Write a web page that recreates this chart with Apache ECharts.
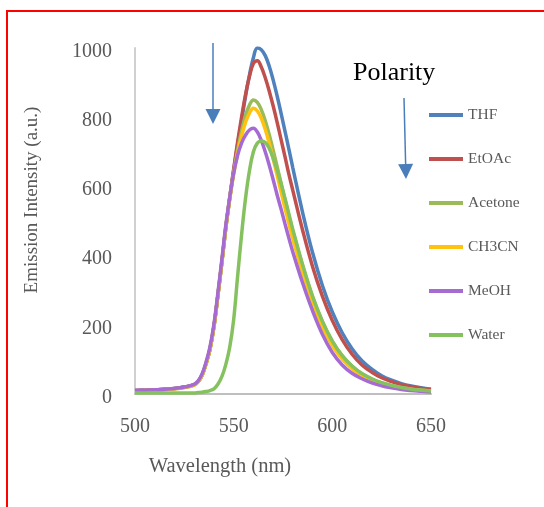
<!DOCTYPE html>
<html>
<head>
<meta charset="utf-8">
<script src="https://cdn.jsdelivr.net/npm/echarts@6/dist/echarts.min.js"></script>
<style>
  html, body { margin: 0; padding: 0; background: #fff; }
  #myChart { width: 544px; height: 507px; }
</style>
</head>
<body>
<div id="myChart"></div>
<script>
// wavelengths (nm), shared by all series
const wavelengths = [
  500, 505, 510, 515, 520, 525,
  530, 532, 534, 536, 538, 540, 542, 544, 546, 548, 550, 552, 554, 556, 558,
  560, 562, 564, 566, 568, 570, 572, 574, 576, 578, 580,
  585, 590, 595, 600, 605, 610, 615, 620, 625, 630, 635, 640, 645, 650
]

const solvents = ['THF', 'EtOAc', 'Acetone', 'CH3CN', 'MeOH', 'Water']
const colors = ['#4F81BD', '#C0504D', '#9BBB59', '#FFC20E', '#A66BD3', '#86C160']

const thf = [
  10, 11, 12, 14, 16, 20,
  27, 36, 55, 88, 130, 195, 285, 380, 480, 565, 645, 720, 790, 860, 922,
  972, 1000, 995, 978, 948, 908, 862, 812, 760, 707, 653,
  523, 408, 313, 237, 177, 131, 96, 72, 53, 40, 30, 23, 18, 14
]
const etoac = [
  10, 11, 12, 14, 16, 20,
  27, 36, 55, 88, 130, 195, 285, 380, 480, 568, 650, 728, 800, 865, 918,
  955, 963, 945, 914, 876, 833, 786, 736, 686, 635, 588,
  472, 368, 282, 212, 157, 115, 84, 63, 47, 36, 27, 21, 16, 13
]
const acetone = [
  9, 10, 11, 13, 15, 19,
  26, 35, 54, 87, 130, 195, 285, 380, 480, 565, 640, 705, 760, 805, 835,
  850, 843, 822, 790, 750, 705, 658, 610, 562, 515, 470,
  370, 280, 208, 152, 110, 80, 58, 43, 32, 24, 18, 14, 11, 9
]
const ch3cn = [
  9, 10, 11, 13, 15, 19,
  26, 35, 54, 87, 130, 195, 285, 380, 480, 563, 635, 695, 745, 785, 812,
  826, 818, 797, 765, 725, 680, 633, 585, 538, 492, 448,
  350, 262, 193, 140, 101, 73, 53, 39, 29, 22, 17, 13, 10, 8
]
const meoh = [
  10, 11, 12, 14, 16, 20,
  28, 38, 58, 92, 136, 202, 292, 388, 487, 568, 638, 690, 725, 748, 763,
  768, 757, 733, 700, 662, 620, 576, 535, 492, 450, 410,
  320, 240, 172, 120, 84, 60, 44, 32, 24, 18, 13, 10, 8, 6
]
const water = [
  3, 3, 3, 3, 3, 3,
  3, 4, 5, 7, 10, 15, 28, 50, 85, 135, 215, 340, 460, 565, 645,
  700, 725, 731, 727, 710, 682, 648, 608, 565, 520, 475,
  372, 282, 210, 153, 111, 81, 59, 44, 33, 25, 19, 14, 11, 9
]
const seriesValues = [thf, etoac, acetone, ch3cn, meoh, water]

const serif = "'Liberation Serif', 'Times New Roman', serif"

const myChart = echarts.init(document.getElementById('myChart'))

// arrow: line + triangle head
function arrow(x1, y1, x2, y2) {
  const headLen = 15
  const half = 7.5
  const dx = x2 - x1
  const dy = y2 - y1
  const len = Math.sqrt(dx * dx + dy * dy)
  const ux = dx / len
  const uy = dy / len
  const bx = x2 - ux * headLen
  const by = y2 - uy * headLen
  return [
    {
      type: 'line',
      shape: { x1: x1, y1: y1, x2: bx, y2: by },
      style: { stroke: '#4A7EBB', lineWidth: 1.5 }
    },
    {
      type: 'polygon',
      shape: { points: [[x2, y2], [bx - uy * half, by + ux * half], [bx + uy * half, by - ux * half]] },
      style: { fill: '#4A7EBB' }
    }
  ]
}

myChart.setOption({
  animation: false,
  color: colors,
  grid: {
    left: 135,
    right: 113,
    top: 48,
    bottom: 113
  },
  legend: {
    orient: 'vertical',
    left: 429,
    top: 105,
    padding: 0,
    itemWidth: 34,
    itemHeight: 4,
    itemGap: 24,
    icon: 'rect',
    data: solvents,
    textStyle: {
      fontFamily: serif,
      fontSize: 15.5,
      color: '#595959',
      lineHeight: 20
    }
  },
  xAxis: {
    type: 'value',
    min: 500,
    max: 650,
    interval: 50,
    axisLine: { lineStyle: { color: '#BFBFBF', width: 2 } },
    axisTick: { show: false },
    splitLine: { show: false },
    axisLabel: {
      margin: 23,
      fontFamily: serif,
      fontSize: 20,
      color: '#595959'
    }
  },
  yAxis: {
    type: 'value',
    min: 0,
    max: 1000,
    interval: 200,
    axisLine: { show: true, lineStyle: { color: '#D0D0D0', width: 2 } },
    axisTick: { show: false },
    splitLine: { show: false },
    axisLabel: {
      margin: 23,
      verticalAlign: 'top',
      lineHeight: 7,
      fontFamily: serif,
      fontSize: 20,
      color: '#595959',
      formatter: function(v) { return String(v) }
    }
  },
  graphic: [
    {
      type: 'rect',
      shape: { x: 7, y: 11, width: 700, height: 700 },
      style: { fill: 'none', stroke: '#FF0000', lineWidth: 2 },
      silent: true
    },
    {
      type: 'text',
      left: 353,
      top: 60,
      style: { text: 'Polarity', fontFamily: serif, fontSize: 26, fill: '#000' }
    },
    {
      type: 'text',
      x: 220,
      y: 467,
      style: {
        text: 'Wavelength (nm)', fontFamily: serif, fontSize: 20.5, fill: '#595959',
        align: 'center', verticalAlign: 'middle'
      }
    },
    {
      type: 'text',
      x: 32,
      y: 200,
      rotation: Math.PI / 2,
      style: {
        text: 'Emission Intensity (a.u.)', fontFamily: serif, fontSize: 19, fill: '#595959',
        align: 'center', verticalAlign: 'middle'
      }
    }
  ].concat(arrow(213, 43, 213, 124), arrow(404, 98, 406, 179)),
  series: solvents.map(function(name, i) {
    return {
      name: name,
      type: 'line',
      smooth: 0.4,
      showSymbol: false,
      lineStyle: { width: 3.5 },
      data: wavelengths.map(function(w, j) {
        return [w, seriesValues[i][j]]
      })
    }
  })
})
</script>
</body>
</html>
